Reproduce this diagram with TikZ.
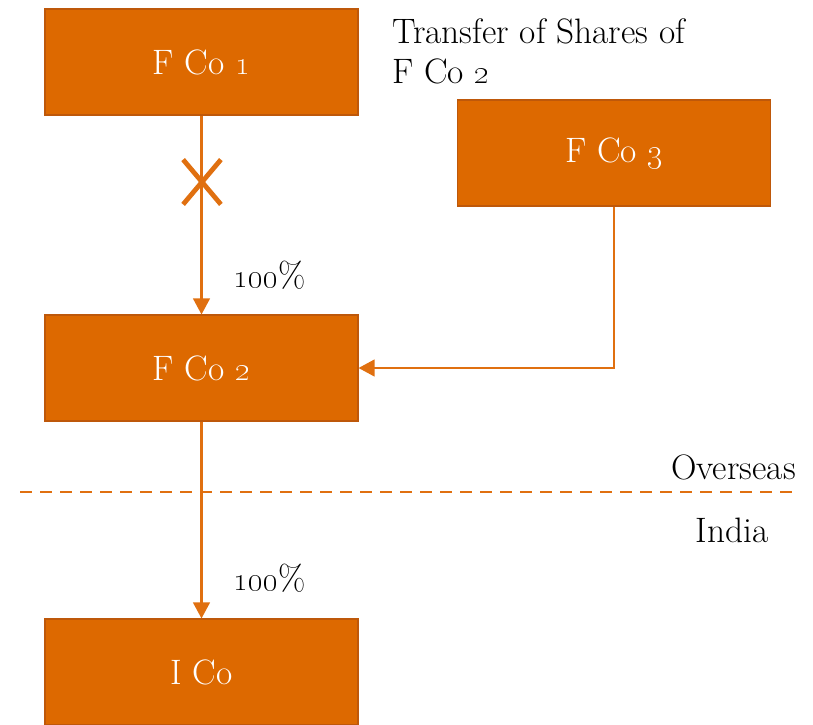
\documentclass[tikz,border=0pt]{standalone}
\usetikzlibrary{arrows.meta,shapes.misc}
\definecolor{cofill}{RGB}{221,105,0}
\definecolor{coedge}{RGB}{190,88,10}
\definecolor{colink}{RGB}{224,112,16}
\newcommand{\osn}[1]{\oldstylenums{#1}}
\begin{document}
\begin{tikzpicture}[x=0.75pt,y=-0.75pt,
  company/.style={draw=coedge,line width=0.8pt,fill=cofill,text=white,
    minimum width=313*0.75pt,minimum height=106*0.75pt,inner sep=0pt,
    font=\fontsize{26.5}{30}\selectfont},
  link/.style={draw=colink,line width=1.6pt,
    -{Triangle[length=12pt,width=12.5pt]}},
  note/.style={text=black,inner sep=0pt,font=\fontsize{26.5}{30}\selectfont},
  border/.style={draw=colink,line width=1.6pt,dash pattern=on 9pt off 6pt}]
\useasboundingbox (0,0) rectangle (813,724);

% companies
\node[company] (fco1) at (201.5,62) {F Co \osn{1}};
\node[company] (fco3) at (614,153) {F Co \osn{3}};
\node[company] (fco2) at (201.5,368) {F Co \osn{2}};
\node[company] (ico)  at (201.5,672) {I Co};

% ownership links
\draw[link] (fco1) -- (fco2);
\draw[link] (fco2) -- (ico);
\draw[link] (fco3.south) |- (fco2.east);

% severed holding
\node[cross out,draw=colink,line width=3.6pt,minimum width=33*0.75pt,
  minimum height=40*0.75pt,inner sep=0pt] (cut) at (202,182) {};

% percentages
\node[note,anchor=west] (p1) at (233,275) {\osn{100}\%};
\node[note,anchor=west] (p2) at (233,578) {\osn{100}\%};

% transfer note
\node[note,anchor=north west,align=left] (tr) at (392,18)
  {Transfer of Shares of\\F Co \osn{2}};

% jurisdiction boundary
\coordinate (bl) at (20,492);
\coordinate (br) at (796,492);
\draw[border] (bl) -- (br);
\node[note,anchor=east] (ov) at (796,467) {Overseas};
\node[note] (in) at (732,530) {India};
\end{tikzpicture}
\end{document}
